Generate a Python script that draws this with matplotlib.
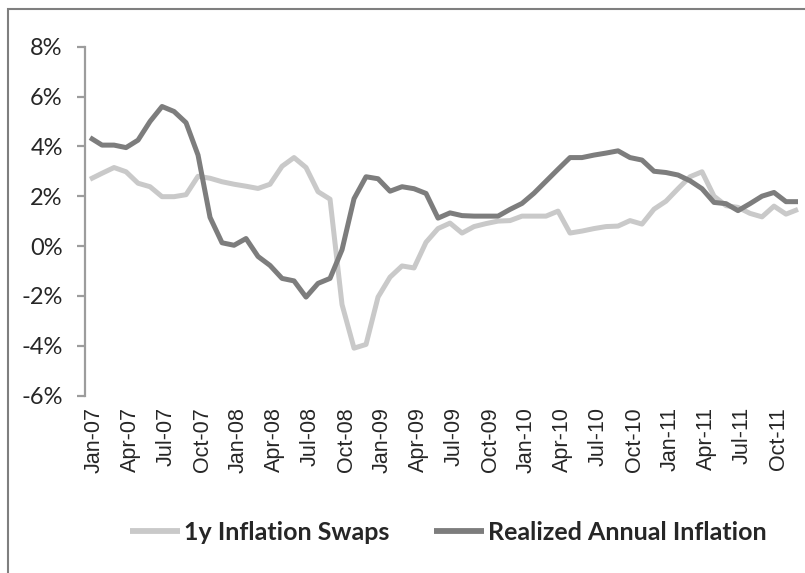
import matplotlib
matplotlib.use("Agg")
import matplotlib.pyplot as plt
import matplotlib.transforms as mtransforms
from matplotlib.patches import Rectangle
from matplotlib.ticker import FuncFormatter

# ---- data (monthly, Jan-07 .. Dec-11) ----
swaps = [2.68, 2.92, 3.15, 2.98, 2.52, 2.38, 1.98, 1.98, 2.06, 2.80,
         2.72, 2.58, 2.48, 2.40, 2.31, 2.48, 3.20, 3.55, 3.15, 2.18,
         1.88, -2.35, -4.10, -3.95, -2.05, -1.25, -0.80, -0.88, 0.15, 0.70,
         0.92, 0.52, 0.78, 0.90, 1.00, 1.02, 1.20, 1.20, 1.20, 1.40,
         0.52, 0.60, 0.70, 0.78, 0.80, 1.02, 0.88, 1.48, 1.80, 2.30,
         2.78, 2.98, 2.00, 1.62, 1.55, 1.31, 1.17, 1.60, 1.28, 1.47]
realized = [4.35, 4.05, 4.05, 3.95, 4.25, 5.00, 5.60, 5.40, 4.95, 3.65,
            1.15, 0.13, 0.03, 0.30, -0.42, -0.78, -1.30, -1.40, -2.05, -1.50,
            -1.30, -0.15, 1.90, 2.78, 2.70, 2.20, 2.38, 2.30, 2.11, 1.12,
            1.33, 1.22, 1.20, 1.20, 1.20, 1.47, 1.71, 2.12, 2.60, 3.08,
            3.55, 3.55, 3.65, 3.73, 3.82, 3.55, 3.45, 3.00, 2.95, 2.85,
            2.62, 2.30, 1.75, 1.70, 1.42, 1.70, 2.00, 2.15, 1.78, 1.78]
tick_labels = ["Jan-07", "Apr-07", "Jul-07", "Oct-07", "Jan-08", "Apr-08",
               "Jul-08", "Oct-08", "Jan-09", "Apr-09", "Jul-09", "Oct-09",
               "Jan-10", "Apr-10", "Jul-10", "Oct-10", "Jan-11", "Apr-11",
               "Jul-11", "Oct-11"]
y_ticks = [-6, -4, -2, 0, 2, 4, 6, 8]
series_names = ["1y Inflation Swaps", "Realized Annual Inflation"]

W, H = 805, 573
fig = plt.figure(figsize=(W / 100, H / 100), dpi=100)
ax = fig.add_axes([85 / W, 1 - 395.5 / H, (800.4 - 85) / W, (395.5 - 46.7) / H])

x = list(range(len(swaps)))
light = "#c9c9c9"
dark = "#7d7d7d"
l1, = ax.plot(x, swaps, color=light, lw=3.6, solid_joinstyle="round",
              solid_capstyle="butt", label=series_names[0])
l2, = ax.plot(x, realized, color=dark, lw=3.6, solid_joinstyle="round",
              solid_capstyle="butt", label=series_names[1])

ax.set_ylim(-6, 8)
ax.set_xlim(-0.42, 59.2)
ax.set_yticks(y_ticks)
ax.yaxis.set_major_formatter(FuncFormatter(lambda v, p: f"{v:.0f}%"))
ax.set_xticks(range(0, len(swaps), 3))
ax.set_xticklabels(tick_labels, rotation=90, fontsize=15.5,
                   family=["Liberation Sans", "DejaVu Sans"], color="#262626")

for s in ["top", "right", "bottom"]:
    ax.spines[s].set_visible(False)
ax.spines["left"].set_color("#9c9c9c")
ax.spines["left"].set_linewidth(1.6)
ax.tick_params(axis="y", length=6, width=1.6, color="#9c9c9c", pad=10,
               labelsize=17, labelcolor="#262626")
for t in ax.get_yticklabels():
    t.set_family(["Lato", "DejaVu Sans"])
ax.tick_params(axis="x", length=0, pad=8.3)

offset = mtransforms.ScaledTranslation(4 / 100, 0, fig.dpi_scale_trans)
for t in ax.get_xticklabels():
    t.set_transform(t.get_transform() + offset)

leg = fig.legend(handles=[l1, l2], loc="center", ncol=2,
                 bbox_to_anchor=(448 / W, 1 - 532 / H), frameon=False,
                 handlelength=2.0, handletextpad=0.16, columnspacing=1.8,
                 prop={"family": ["Lato", "DejaVu Sans"], "weight": "bold", "size": 18})
for line in leg.get_lines():
    line.set_linewidth(4.2)
for t in leg.get_texts():
    t.set_color("#262626")

fig.add_artist(Rectangle((8 / W, -0.05), 1.0, 1 - 9 / H + 0.05,
                         transform=fig.transFigure, fill=False,
                         edgecolor="#7f7f7f", lw=1.5))

fig.savefig("out.png", dpi=100)
